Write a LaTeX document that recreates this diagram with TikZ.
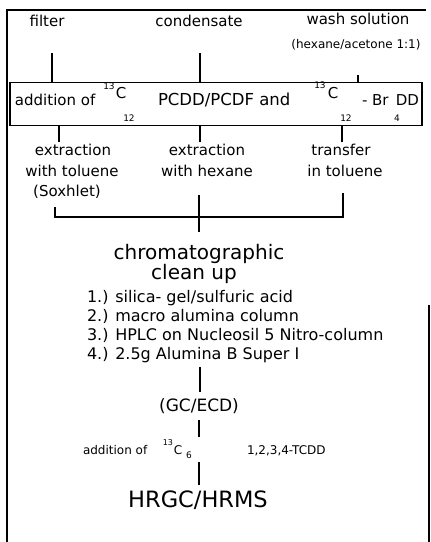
\documentclass[tikz,border=0pt]{standalone}
\usepackage{fontspec}
\setmainfont{DejaVu Sans}
\begin{document}
\begin{tikzpicture}[x=1pt,y=-1pt,
  every node/.style={inner sep=0pt, outer sep=0pt},
  lbl/.style={font=\fontsize{15}{18}\selectfont},
  sml/.style={font=\fontsize{12}{14}\selectfont},
  boxt/.style={font=\fontsize{15}{18}\selectfont},
  boxw/.style={font=\fontsize{16.5}{19}\selectfont},
  iso/.style={font=\fontsize{9}{10}\selectfont},
  isoa/.style={font=\fontsize{8}{9}\selectfont},
  big/.style={font=\fontsize{20}{24}\selectfont},
  lst/.style={font=\fontsize{16}{19}\selectfont},
  gcs/.style={font=\fontsize{17}{20}\selectfont},
  addt/.style={font=\fontsize{12}{14}\selectfont},
  hr/.style={font=\fontsize{22.5}{26}\selectfont},
  ln/.style={line width=1.6pt},
  frm/.style={line width=1.8pt},
  bx/.style={draw, line width=1.6pt, minimum width=412pt, minimum height=43pt}
]
\useasboundingbox (0,0) rectangle (431,542);
% outer frame
\draw[frm] (7,542) -- (7,10) -- (426,10);
\draw[frm] (429,305) -- (429,542);

% top labels
\node[lbl, anchor=base] (filter) at (47,26) {filter};
\node[lbl, anchor=base] (cond) at (199,26) {condensate};
\node[lbl, anchor=base] (wash) at (358,24) {wash solution};
\node[sml, anchor=base] (hex) at (356,48) {(hexane/acetone 1:1)};

% box
\node[bx] (box) at (216,104) {};
\node[boxt, anchor=base west] (ba) at (15,105) {addition of};
\node[iso] (bs1) at (109,86) {13};
\node[boxt] (bc1) at (121,93) {C};
\node[iso] (bd1) at (129,118) {12};
\node[boxw, anchor=base west] (bb) at (158,105) {PCDD/PCDF and};
\node[iso] (bs2) at (320,85) {13};
\node[boxt] (bc2) at (333,93) {C};
\node[iso] (bd2) at (346,118) {12};
\node[boxt, anchor=base west] (bbr) at (362,105) {- Br};
\node[iso] (bd3) at (397,118) {4};
\node[boxt, anchor=base east] (bdd) at (419,105) {DD};

% lines into box
\coordinate (tf) at (52,53);
\coordinate (tc) at (200,53);
\coordinate (tw) at (358,75);
\draw[ln] (tf) -- (tf |- box.north);
\draw[ln] (tc) -- (tc |- box.north);
\draw[ln] (tw) -- (tw |- box.north);

% lines out of box
\coordinate (u1) at (59,142);
\coordinate (u2) at (200,142);
\coordinate (u3) at (342,142);
\draw[ln] (u1 |- box.south) -- (u1);
\draw[ln] (u2 |- box.south) -- (u2);
\draw[ln] (u3 |- box.south) -- (u3);

% three branches
\node[lbl, anchor=base] (e1a) at (73,155) {extraction};
\node[lbl, anchor=base] (e1b) at (72,176) {with toluene};
\node[lbl, anchor=base] (e1c) at (67,196) {(Soxhlet)};
\node[lbl, anchor=base] (e2a) at (207,155) {extraction};
\node[lbl, anchor=base] (e2b) at (207,176) {with hexane};
\node[lbl, anchor=base] (e3a) at (341,155) {transfer};
\node[lbl, anchor=base] (e3b) at (345,176) {in toluene};

% bracket
\coordinate (bl) at (55,207);
\coordinate (br) at (343,193);
\coordinate (bj) at (199,217);
\coordinate (vt) at (199,195);
\coordinate (vb) at (199,232);
\draw[ln] (bl) -- (bl |- bj) -- (br |- bj) -- (br);
\draw[ln] (vt) -- (vb);

% clean up
\node[big, anchor=base] (chr) at (199,259) {chromatographic};
\node[big, anchor=base] (cln) at (194,279) {clean up};
\node[lst, anchor=base west] (l1) at (87,302) {1.) silica- gel/sulfuric acid};
\node[lst, anchor=base west] (l2) at (87,321) {2.) macro alumina column};
\node[lst, anchor=base west] (l3) at (87,340) {3.) HPLC on Nucleosil 5 Nitro-column};
\node[lst, anchor=base west] (l4) at (87,359) {4.) 2.5g Alumina B Super I};

\coordinate (g1) at (200,367);
\coordinate (g2) at (200,392);
\draw[ln] (g1) -- (g2);
\node[gcs, anchor=base] (gc) at (199,411) {(GC/ECD)};

\coordinate (h1) at (199,420);
\coordinate (h2) at (199,437);
\draw[ln] (h1) -- (h2);

\node[addt, anchor=base west] (ad) at (83,454) {addition of};
\node[isoa] (as) at (168,443) {13};
\node[addt, anchor=base] (ac) at (178,454) {C};
\node[iso] (a6) at (189,455) {6};
\node[addt, anchor=base west] (tcdd) at (247,454) {1,2,3,4-TCDD};

\coordinate (k1) at (199,462);
\coordinate (k2) at (199,485);
\draw[ln] (k1) -- (k2);
\node[hr, anchor=base] (hrms) at (198,507) {HRGC/HRMS};
\end{tikzpicture}
\end{document}
